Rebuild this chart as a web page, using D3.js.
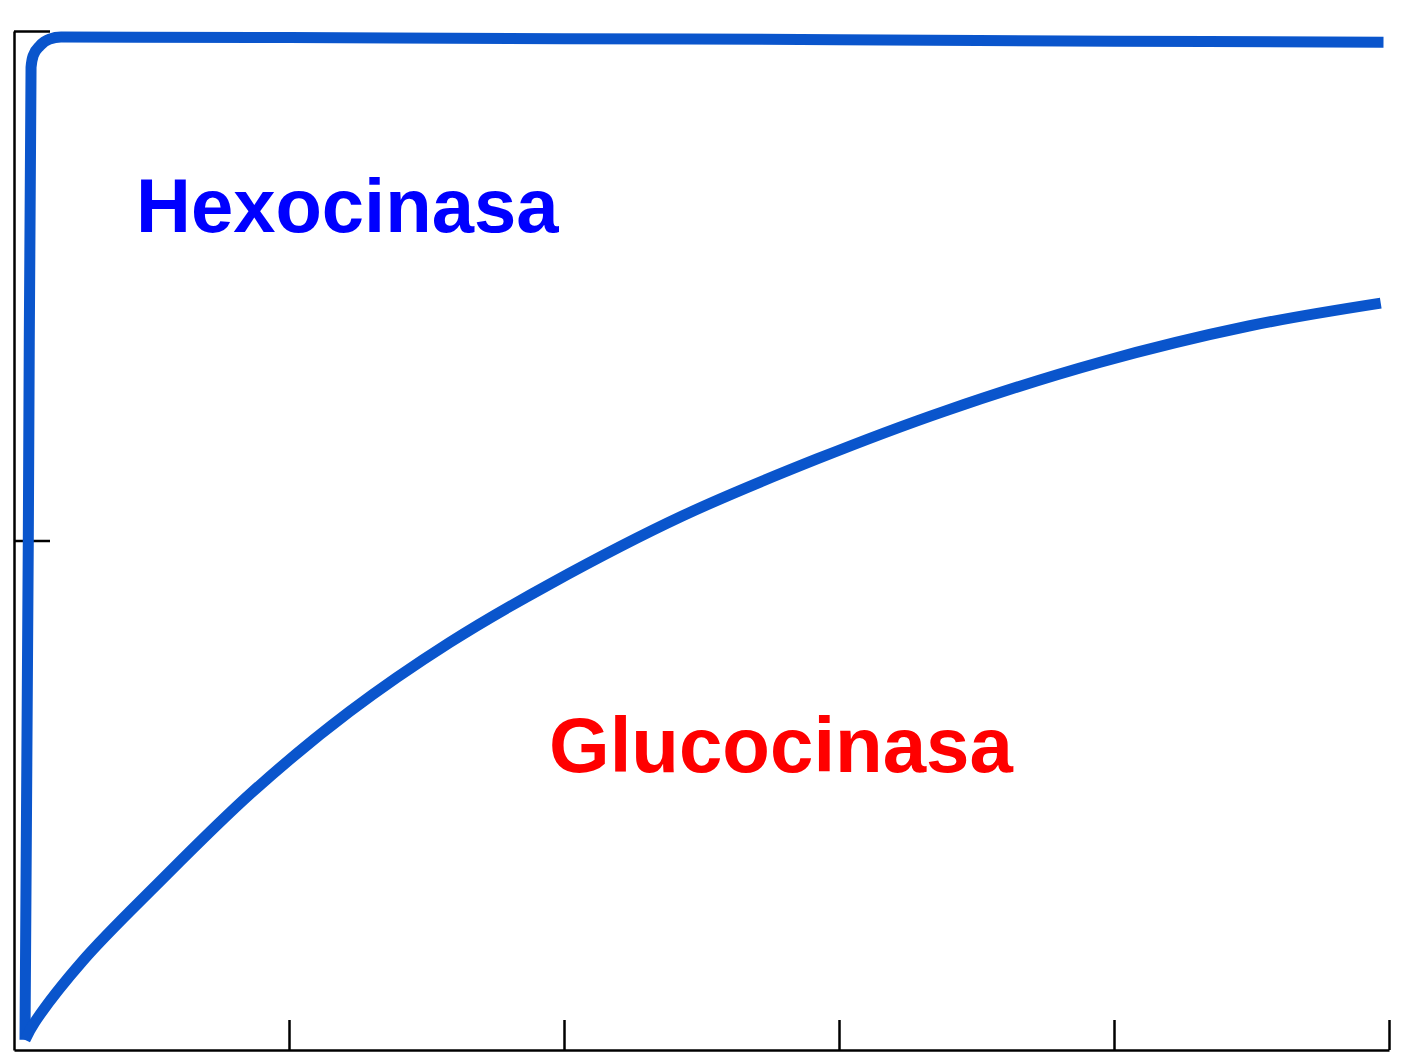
<!DOCTYPE html>
<html lang="es">
<head>
  <meta charset="UTF-8">
  <title>Hexocinasa vs Glucocinasa</title>
  <style>
    body { margin: 0; background: #fff; }
    svg { display: block; }
    .axis path, .axis line { stroke: #000; stroke-width: 2.5; }
  </style>
</head>
<body>
  <div id="chart"></div>
  <script src="https://d3js.org/d3.v7.min.js"></script>
  <script>
    const SVGWIDTH = 1422;
    const SVGHEIGHT = 1052;

    // substrate concentration (x) and velocity (y)
    const hexoX = [0.04, 0.052, 0.062, 0.070, 0.094, 0.129, 0.171, 1.0, 2.0, 3.0, 4.0, 4.98];
    const hexoY = [0.02, 1.0, 1.929, 1.952, 1.971, 1.984, 1.988, 1.987, 1.985, 1.983, 1.980, 1.978];
    const glucoX = [0.04, 0.076, 0.25, 0.52, 0.87, 1.22, 1.585, 1.95, 2.43, 2.92, 3.39, 3.95, 4.49, 4.97];
    const glucoY = [0.02, 0.055, 0.175, 0.325, 0.508, 0.664, 0.800, 0.915, 1.048, 1.160, 1.255, 1.350, 1.421, 1.466];
    const xTicks = [1, 2, 3, 4, 5];
    const yTicks = [1, 2];
    const labels = ['Hexocinasa', 'Glucocinasa'];

    const xScale = d3.scaleLinear().domain([0, 5]).range([14, 1389]);
    const yScale = d3.scaleLinear().domain([0, 2]).range([1050, 31]);

    const svg = d3.select('#chart')
      .append('svg')
      .attr('width', SVGWIDTH)
      .attr('height', SVGHEIGHT);

    // axes, ticks point inwards, no labels
    const xAxis = d3.axisBottom(xScale).tickValues(xTicks).tickSizeInner(-30).tickSizeOuter(0).tickFormat('');
    const yAxis = d3.axisLeft(yScale).tickValues(yTicks).tickSizeInner(-36).tickSizeOuter(0).tickFormat('');

    svg.append('g').attr('class', 'axis')
      .attr('transform', `translate(0,${yScale(0)})`)
      .call(xAxis);
    svg.append('g').attr('class', 'axis')
      .attr('transform', `translate(${xScale(0)},0)`)
      .call(yAxis);

    // hexokinase keeps its sharp rise, glucokinase gets a smooth spline
    const series = [
      { pts: d3.zip(hexoX, hexoY), curve: d3.curveMonotoneX },
      { pts: d3.zip(glucoX, glucoY), curve: d3.curveCatmullRom.alpha(0.5) }
    ];

    svg.selectAll('path.curve')
      .data(series)
      .enter()
      .append('path')
      .attr('class', 'curve')
      .attr('d', s => d3.line()
        .x(d => xScale(d[0]))
        .y(d => yScale(d[1]))
        .curve(s.curve)(s.pts))
      .attr('fill', 'none')
      .attr('stroke', '#0a55cc')
      .attr('stroke-width', 11)
      .attr('stroke-linecap', 'butt')
      .attr('stroke-linejoin', 'round');

    // curve names
    svg.append('text')
      .attr('x', 136)
      .attr('y', 232)
      .attr('font-family', 'Liberation Sans, Arial, sans-serif')
      .attr('font-weight', 'bold')
      .attr('font-size', 76)
      .attr('fill', '#0000ff')
      .text(labels[0]);

    svg.append('text')
      .attr('x', 549)
      .attr('y', 772)
      .attr('font-family', 'Liberation Sans, Arial, sans-serif')
      .attr('font-weight', 'bold')
      .attr('font-size', 78)
      .attr('fill', '#ff0000')
      .text(labels[1]);
  </script>
</body>
</html>
